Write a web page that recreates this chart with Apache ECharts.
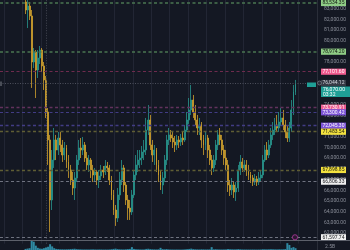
<!DOCTYPE html>
<html><head><meta charset="utf-8">
<script src="https://cdn.jsdelivr.net/npm/echarts@6/dist/echarts.min.js"></script>
<style>html,body{margin:0;padding:0;background:#141823;}#c{width:350px;height:250px;}</style>
</head><body><div id="c"></div>
<script>
// ---- data ----
const leadEmpty = 12, trailEmpty = 10;
const openP = [
83630,82880,83250,82320,78010,78950,77260,78380,79130,77640,
76330,73330,70710,65090,68830,70710,69770,70890,70240,69300,
69960,68650,67900,66960,66210,67150,68830,69960,69770,70240,
69020,68370,68830,67900,67430,67710,66960,67340,67900,67710,
68270,68090,66960,65560,64150,63400,65560,66960,68090,66490,
65090,64340,63970,65560,67430,68370,68830,69020,69580,69770,
71640,72580,70240,69300,69770,68370,67430,66490,67150,68830,
70710,71180,70890,70520,70240,70710,70520,70890,70710,71640,
72580,73520,74450,73330,72580,71830,72110,70710,70240,70890,
69770,68830,68090,68830,70240,71180,70710,69770,69020,68370,
66490,66030,66490,65840,66210,67900,68650,68090,68370,67900,
67430,67150,66770,67060,66770,67150,67430,68830,69770,69300,
70240,71180,71640,72110,71830,72390,72770,72110,71460,70890,
71830,73520,75200];
const closeP = [
82880,83250,82320,78010,78950,77260,78380,79130,77640,76330,
73330,70710,65090,68830,70710,69770,70890,70240,69300,69960,
68650,67900,66960,66210,67150,68830,69960,69770,70240,69020,
68370,68830,67900,67430,67710,66960,67340,67900,67710,68270,
68090,66960,65560,64150,63400,65560,66960,68090,66490,65090,
64340,63970,65560,67430,68370,68830,69020,69580,69770,71640,
72580,70240,69300,69770,68370,67430,66490,67150,68830,70710,
71180,70890,70520,70240,70710,70520,70890,70710,71640,72580,
73520,74450,73330,72580,71830,72110,70710,70240,70890,69770,
68830,68090,68830,70240,71180,70710,69770,69020,68370,66490,
66030,66490,65840,66210,67900,68650,68090,68370,67900,67430,
67150,66770,67060,66770,67150,67430,68830,69770,69300,70240,
71180,71640,72110,71830,72390,72770,72110,71460,70890,71830,
73520,75200,76070];
const lowP = [
82500,81190,81940,75580,77450,74640,76510,77820,77070,75390,
72770,68370,62090,64150,68090,68830,69300,69580,68650,68830,
68090,67150,66490,65560,65090,66770,68370,69020,69300,68650,
67900,67710,67150,66770,66770,66490,66210,66960,67150,67430,
67710,66490,65090,63690,62660,63030,65090,66490,65840,64620,
63220,63220,63690,65280,66960,67710,68090,68370,68830,69300,
71180,69770,68650,68370,67710,66770,66030,65650,66770,68370,
70240,70520,69960,69580,69770,69960,70150,70240,70520,71460,
72210,73050,72770,72110,71180,71180,69960,69300,69770,69020,
68370,67430,67710,68370,69770,70240,69300,68370,67900,65840,
65460,65560,65280,65000,65840,67430,67710,67710,67340,66960,
66680,66400,66490,66400,66490,66770,67150,68650,68830,69020,
69960,70710,71180,71460,71460,72020,71640,70890,70520,70520,
71460,73050,74920];
const highP = [
84280,83810,83630,82880,79320,79130,79130,79510,79320,78010,
76700,73700,71180,69770,71830,71180,71460,71460,70710,70520,
70240,69300,68370,67710,67710,69300,70710,70890,70990,70520,
69580,69300,69020,68370,68090,67900,67900,68370,68270,68830,
68650,68370,67340,66030,64620,66210,67710,68830,68370,66770,
65560,65090,66030,67900,69300,69770,69770,70150,70710,72770,
73980,73050,70710,70240,69960,68830,67900,67710,69300,71180,
71830,71640,71460,71080,71180,71080,71270,71460,72110,73330,
74640,75860,74920,73980,73050,72770,72390,71180,71460,71180,
70240,69300,69300,70710,71640,71830,71180,70240,69770,68830,
66960,67150,66770,66770,68370,69300,69020,68830,68830,68370,
67710,67430,67520,67340,67710,67900,69300,70240,70520,70710,
71830,72390,72770,73050,73330,73700,73520,72580,72110,72390,
74450,75860,76330];
const volumeM = [
300,400,500,2500,2300,1200,600,400,350,500,
700,900,1600,1000,500,300,250,200,200,180,
200,220,260,300,350,250,200,180,150,150,
150,140,160,180,150,140,160,150,130,140,
130,160,220,300,380,260,200,180,160,200,
260,300,800,300,200,180,160,150,160,300,
350,250,200,180,160,200,600,250,200,260,
180,150,140,130,140,130,120,140,180,240,
300,380,250,200,180,160,200,180,160,170,
180,800,200,220,180,160,150,160,170,280,
220,200,180,200,260,200,160,150,150,140,
140,150,140,130,140,150,220,200,180,200,
220,200,180,170,200,180,200,260,1900,1400,
600,800,500];
const levelPrices = [83534.35, 78974.20, 77101.60, 73730.91, 73300.42, 72045.30, 71483.54, 67898.85, 66806.33, 61597.74];
const crosshairPrice = 76044.12;
const countdownText = '03:32';
const volumeMaxLabel = '2.5B';

// ---- styles ----
const levelStyles = [
  {line:'#4a7552', bg:'#8fcd86', fg:'#10140f', w:1.6},
  {line:'#4a7552', bg:'#8fcd86', fg:'#10140f', w:1.6},
  {line:'#6e2b4e', bg:'#ef5b8f', fg:'#ffffff', w:1},
  {line:'#62325d', bg:'#ef5b8f', fg:'#ffffff', w:1.3},
  {line:'#423c85', bg:'#7b52d6', fg:'#ffffff', w:1.1},
  {line:'#423c85', bg:'#7b52d6', fg:'#ffffff', w:1.3},
  {line:'#5f5e34', bg:'#f3e23f', fg:'#15150a', w:1.3},
  {line:'#5f5e34', bg:'#f3e23f', fg:'#15150a', w:1.3},
  {line:'#6f7380', bg:'#f0f0f0', fg:'#15161a', w:1.1},
  {line:'#6f7380', bg:'#f0f0f0', fg:'#15161a', w:1.1}
];
const fmt = v => Number(v).toLocaleString('en-US', {minimumFractionDigits:2, maximumFractionDigits:2});
const FONT = 'Roboto, "Liberation Sans", sans-serif';

const N = leadEmpty + openP.length + trailEmpty;
const cats = Array.from({length:N}, (_, i) => 'c' + i);
const candle = cats.map((_, i) => { const k = i - leadEmpty; return (k >= 0 && k < openP.length) ? [openP[k], closeP[k], lowP[k], highP[k]] : '-'; });
const vol = cats.map((_, i) => { const k = i - leadEmpty; return (k >= 0 && k < volumeM.length) ? volumeM[k] : '-'; });

const lbl = (txt, bg, fg) => ({show:true, position:'end', distance:4, formatter:() => txt, backgroundColor:bg, color:fg,
  fontSize:5, fontFamily:FONT, lineHeight:5, padding:[0.8,1.5,0.4,1.5]});

const markData = levelPrices.map((p, k) => ({
  yAxis:p, lineStyle:{color:levelStyles[k].line, type:[3,2.5], width:levelStyles[k].w},
  label:lbl(fmt(p), levelStyles[k].bg, levelStyles[k].fg)
}));
markData.push({yAxis:crosshairPrice, lineStyle:{color:'#5a5e69', type:[1,1.5], width:0.8}, label:lbl(fmt(crosshairPrice), '#363a45', '#d1d4dc')});
markData.push({xAxis:'c22', lineStyle:{color:'#4e525d', type:[1,1.5], width:0.8}, label:{show:false}});

const chart = echarts.init(document.getElementById('c'), null, {renderer:'canvas'});
const lastClose = closeP[closeP.length - 1];
chart.setOption({
  backgroundColor:'#141823',
  animation:false,
  textStyle:{fontFamily:FONT},
  grid:[
    {left:0, right:33, top:0, bottom:6.34},
    {left:0, right:33, top:241, bottom:0}
  ],
  xAxis:[
    {type:'category', data:cats, gridIndex:0, boundaryGap:true,
     axisLine:{show:false}, axisTick:{show:false}, axisLabel:{show:false},
     splitLine:{show:true, interval:(i) => (i - 2) % 9 === 0, lineStyle:{color:'#222634', width:1}}},
    {type:'category', data:cats, gridIndex:1, boundaryGap:true, show:false}
  ],
  yAxis:[
    {type:'value', gridIndex:0, position:'right', min:61000, max:83815, interval:1000,
     axisLine:{show:true, lineStyle:{color:'#2a2e39'}}, axisTick:{show:false}, splitLine:{show:false},
     axisLabel:{margin:7, fontSize:5, color:'#8a8e99', fontFamily:FONT, showMinLabel:false, showMaxLabel:false, formatter:v => fmt(v)}},
    {type:'value', gridIndex:1, position:'right', min:0, max:2500, interval:2500,
     axisLine:{show:true, lineStyle:{color:'#2a2e39'}}, axisTick:{show:false}, splitLine:{show:false},
     axisLabel:{margin:8, fontSize:5, color:'#8a8e99', fontFamily:FONT, showMinLabel:false, verticalAlign:'top', padding:[3,0,0,0], formatter:() => volumeMaxLabel}}
  ],
  series:[
    {type:'candlestick', xAxisIndex:0, yAxisIndex:0, data:candle, barWidth:1.4,
     itemStyle:{color:'#27968d', color0:'#cfa12d', borderColor:'#27968d', borderColor0:'#cfa12d', borderWidth:0.8},
     markLine:{symbol:['none','none'], silent:true, animation:false, data:markData}},
    {type:'bar', xAxisIndex:1, yAxisIndex:1, data:vol, barWidth:2, itemStyle:{color:'#2f8aa3'}}
  ],
  graphic:[
    {type:'line', shape:{x1:0, y1:240.5, x2:350, y2:240.5}, style:{stroke:'#5d616b', lineWidth:1}, z:100},
    {type:'rect', shape:{x:321, y:86.5, width:29, height:10.5}, style:{fill:'#1f9f96'}, z:100},
    {type:'text', x:323, y:87.2, style:{text:fmt(lastClose) + '\n' + countdownText, fill:'#ffffff', fontSize:5, lineHeight:5, fontFamily:FONT}, z:101},
    {type:'rect', shape:{x:307, y:82.5, width:9, height:4.5}, style:{fill:'#1f9f96'}, z:100},
    {type:'circle', shape:{cx:319.5, cy:83, r:2}, style:{fill:'#2a2e39', stroke:'#8a8e99', lineWidth:0.6}, z:100},
    {type:'rect', shape:{x:0, y:81.5, width:2, height:4.5}, style:{fill:'#4a4e58'}, z:100},
    {type:'circle', shape:{cx:295, cy:237.3, r:2.6}, style:{fill:'#2a1830', stroke:'#b13aa0', lineWidth:0.8}, z:100}
  ]
});
</script></body></html>
